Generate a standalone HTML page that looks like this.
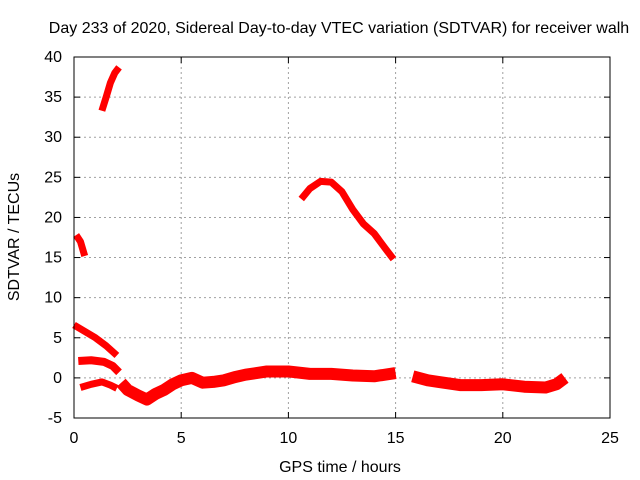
<!DOCTYPE html>
<html><head><meta charset="utf-8"><style>
body{margin:0;background:#fff}
svg{display:block;font-family:"Liberation Sans",sans-serif;font-size:16px}
</style></head><body>
<svg id="chart" width="640" height="480">
<rect width="640" height="480" fill="#fff"/>
<text x="339" y="33" text-anchor="middle">Day 233 of 2020, Sidereal Day-to-day VTEC variation (SDTVAR) for receiver walh</text>
<text x="340" y="472" text-anchor="middle">GPS time / hours</text>
<text transform="translate(19,237) rotate(-90)" text-anchor="middle">SDTVAR / TECUs</text>
<g id="grid"></g><g id="ticks"></g><g id="series"></g>
<rect x="74" y="57" width="536" height="361" fill="none" stroke="#000"/>
</svg>
<script>
const xTicks=[0,5,10,15,20,25];
const yTicks=[-5,0,5,10,15,20,25,30,35,40];
const segA=[[0.1,17.8],[0.3,17],[0.5,15.2]];
const segB=[[1.3,33.3],[1.5,35],[1.7,36.8],[1.9,38],[2.1,38.7]];
const segC=[[0,6.6],[0.5,5.8],[1,5],[1.5,4],[2,2.8]];
const segD=[[0.2,2.1],[0.8,2.2],[1.4,2],[1.8,1.5],[2.1,0.7]];
const segE=[[0.3,-1.2],[0.8,-0.8],[1.3,-0.5],[1.7,-0.9],[2,-1.3]];
const segF=[[2.2,-0.6],[2.5,-1.5],[3,-2.2],[3.4,-2.7],[3.8,-2],[4.2,-1.5],[4.6,-0.8],[5,-0.3],[5.5,0],[6,-0.6],[6.5,-0.5],[7,-0.3],[7.5,0.1],[8,0.4],[9,0.8],[10,0.8],[11,0.5],[12,0.5],[13,0.3],[14,0.2],[15,0.6]];
const segH=[[15.8,0.2],[16.5,-0.3],[17,-0.5],[18,-0.9],[19,-0.9],[20,-0.8],[21,-1.1],[22,-1.2],[22.5,-0.8],[22.9,0]];
const segG=[[10.6,22.3],[11,23.6],[11.5,24.5],[12,24.4],[12.5,23.2],[13,21],[13.5,19.2],[14,18],[14.5,16.2],[14.9,14.8]];
const NS='http://www.w3.org/2000/svg';
const X=v=>74+v*536/25, Y=v=>418-(v+5)*361/45;
function mk(t,a,p){const e=document.createElementNS(NS,t);for(const k in a)e.setAttribute(k,a[k]);p.appendChild(e);return e;}
const grid=document.getElementById('grid'),ticks=document.getElementById('ticks'),ser=document.getElementById('series');
xTicks.forEach(t=>{const x=X(t);
 if(t>0&&t<25){const g=mk('line',{x1:x,x2:x,y1:57,y2:418,stroke:'#a0a0a0','stroke-dasharray':'2,3'},grid);
 }
 mk('line',{x1:x,x2:x,y1:418,y2:412,stroke:'#000'},ticks);mk('line',{x1:x,x2:x,y1:57,y2:63,stroke:'#000'},ticks);
 const l=mk('text',{x:x,y:443,'text-anchor':'middle'},ticks);l.textContent=t;
 });
yTicks.forEach(t=>{const y=Y(t);
 if(t>-5&&t<40){const g=mk('line',{x1:74,x2:610,y1:y,y2:y,stroke:'#a0a0a0','stroke-dasharray':'2,3'},grid);
 }
 mk('line',{x1:74,x2:80,y1:y,y2:y,stroke:'#000'},ticks);mk('line',{x1:610,x2:604,y1:y,y2:y,stroke:'#000'},ticks);
 const l=mk('text',{x:62,y:y+5,'text-anchor':'end'},ticks);l.textContent=t;
 });
[[segA,7],[segB,7],[segC,7],[segD,8],[segE,7],[segF,12],[segH,12],[segG,7]].forEach(([s,w])=>{
 const p=mk('polyline',{points:s.map(d=>X(d[0])+','+Y(d[1])).join(' '),fill:'none',stroke:'#f00','stroke-width':w,'stroke-linejoin':'round'},ser);
 });
</script>
</body></html>
